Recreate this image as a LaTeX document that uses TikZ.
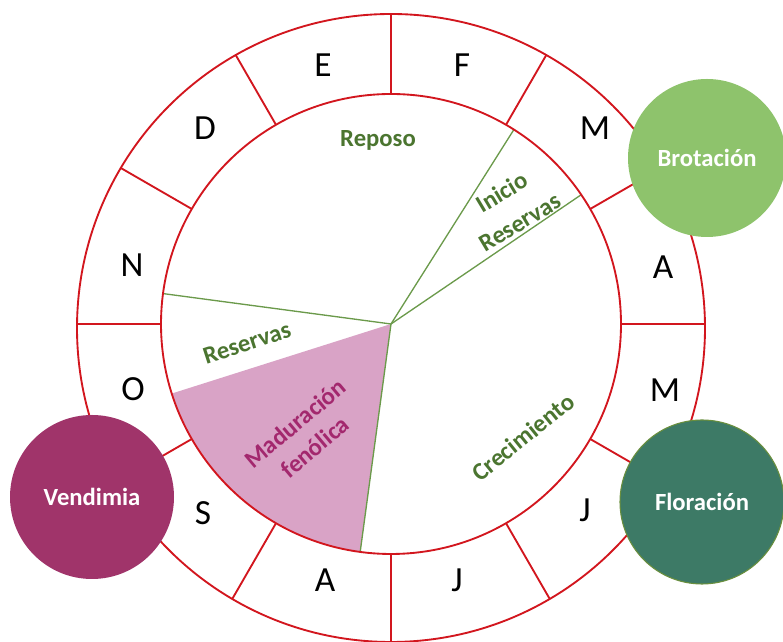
\documentclass[tikz,border=0pt]{standalone}
\usepackage{fontspec}
\setmainfont{Carlito}
\definecolor{ringred}{HTML}{D2161E}
\definecolor{secgreen}{HTML}{6B9A4B}
\definecolor{txtgreen}{HTML}{4B7530}
\definecolor{pinkfill}{HTML}{D9A3C6}
\definecolor{madtxt}{HTML}{A3286E}
\definecolor{brot}{HTML}{8EC36C}
\definecolor{flor}{HTML}{3D7A66}
\definecolor{florline}{HTML}{6A8F3E}
\definecolor{vend}{HTML}{A0346A}
\begin{document}
\begin{tikzpicture}[x=0.75pt,y=0.75pt,
  ring/.style={draw=ringred, line width=1.4pt},
  seg/.style={draw=secgreen, line width=1pt},
  month/.style={font=\fontsize{26.5}{30}\selectfont, text=black, inner sep=0pt},
  phase/.style={font=\bfseries\fontsize{18.5}{26}\selectfont, text=txtgreen, align=center, inner sep=0pt},
  stage/.style={circle, inner sep=0pt, text=white, font=\bfseries\fontsize{18.5}{22}\selectfont}]
\useasboundingbox (0,0) rectangle (783,642);
\coordinate (C) at (391,318);
\coordinate (O) at (391,314);
% pink sector
\fill[pinkfill] (C) -- ([shift={(197.6:230)}]C) arc[start angle=197.6, end angle=262.3, radius=172.5pt] -- cycle;
% sector boundaries
\foreach \a in {57.7,34.2,172.4,262.3}
  \draw[seg] (C) -- ([shift={(\a:230)}]C);
% rings
\draw[ring] (C) circle[radius=172.5pt];
\draw[ring] (O) circle[radius=235.5pt];
\foreach \a in {0,30,...,330}
  \draw[ring] ([shift={(\a:230)}]C) -- ([shift={(\a:{314-4*sin(\a)})}]C);
% months
\node[month] (mE) at (323,577) {E};
\node[month] (mF) at (462,577) {F};
\node[month] (mD) at (205,514) {D};
\node[month] (mN) at (132,377) {N};
\node[month] (mO) at (133,253) {O};
\node[month] (mS) at (203,129) {S};
\node[month] (mA2) at (325,62) {A};
\node[month] (mJ2) at (457,62) {J};
\node[month] (mJ1) at (585,132) {J};
\node[month] (mM2) at (665,252) {M};
\node[month] (mA1) at (663,375) {A};
\node[month] (mM1) at (595,514) {M};
% phases
\node[phase] (rep) at (378,502) {Reposo};
\node[phase, rotate=31] (ini) at (511,435) {Inicio\\Reservas};
\node[phase, rotate=18] (res) at (247,299) {Reservas};
\node[phase, rotate=40, text=madtxt, font=\bfseries\fontsize{18.5}{23}\selectfont] (mad) at (305,207) {Maduración\\fenólica};
\node[phase, rotate=39] (cre) at (523,205) {Crecimiento};
% stage circles
\node[stage, fill=brot, minimum size=118.5pt] (brot) at (707,484) {Brotación};
\node[stage, fill=flor, draw=florline, line width=0.8pt, minimum size=123pt] (flor) at (702,140) {Floración};
\node[stage, fill=vend, minimum size=123pt] (vend) at (92,145) {Vendimia};
\end{tikzpicture}
\end{document}
